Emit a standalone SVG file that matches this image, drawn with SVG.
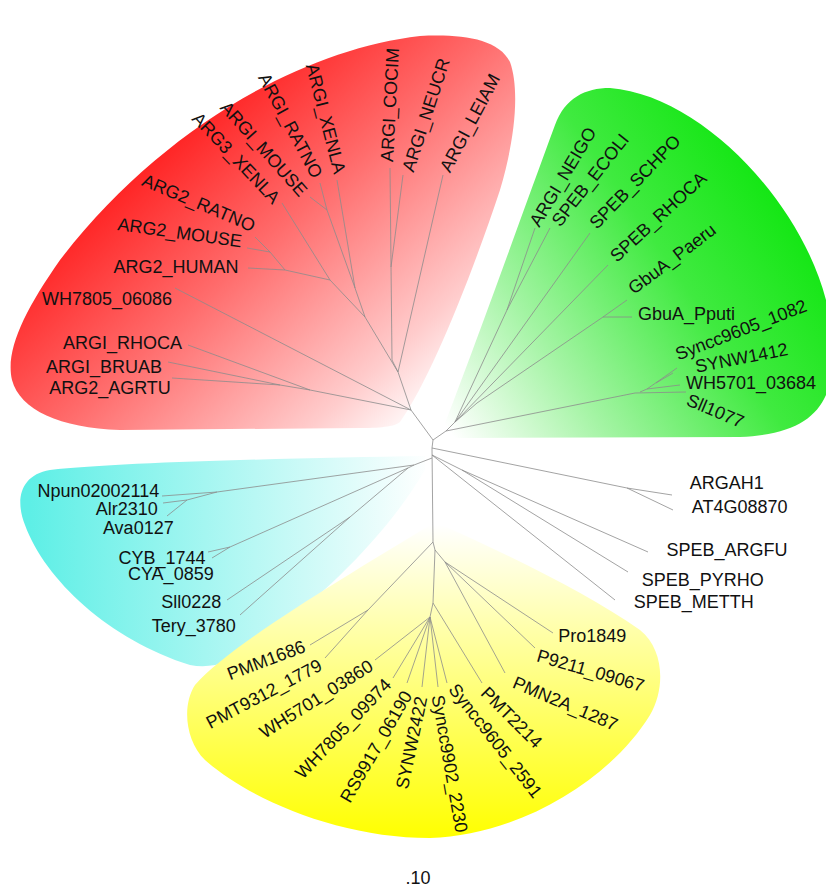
<svg xmlns="http://www.w3.org/2000/svg" width="826" height="888" viewBox="0 0 826 888">
<defs>
<linearGradient id="gRed" gradientUnits="userSpaceOnUse" x1="100" y1="70" x2="420" y2="425">
<stop offset="0" stop-color="#ff0000"/><stop offset="0.15" stop-color="#ff1515"/><stop offset="0.5" stop-color="#ff6c6c"/><stop offset="0.85" stop-color="#ffcccc"/><stop offset="1" stop-color="#ffffff"/>
</linearGradient>
<linearGradient id="gGreen" gradientUnits="userSpaceOnUse" x1="800" y1="190" x2="450" y2="432">
<stop offset="0" stop-color="#0ce60c"/><stop offset="0.35" stop-color="#40ea40"/><stop offset="0.7" stop-color="#a4f4a4"/><stop offset="1" stop-color="#ffffff"/>
</linearGradient>
<linearGradient id="gCyan" gradientUnits="userSpaceOnUse" x1="30" y1="0" x2="430" y2="0">
<stop offset="0" stop-color="#5eefe6"/><stop offset="1" stop-color="#ffffff"/>
</linearGradient>
<linearGradient id="gYellow" gradientUnits="userSpaceOnUse" x1="0" y1="525" x2="0" y2="838">
<stop offset="0" stop-color="#ffffff"/><stop offset="1" stop-color="#ffff00"/>
</linearGradient>
</defs>
<style>
.lbl{font-family:"Liberation Sans",Arial,sans-serif;font-size:18px;fill:#111;text-anchor:middle;dominant-baseline:central}
.br{fill:none;stroke:#8c8c8c;stroke-width:0.8}
</style>
<rect width="826" height="888" fill="#ffffff"/>
<g id="clades">
<path id="clade-red" fill="url(#gRed)" d="M400,422 C430,380 470,280 500,190 C515,140 520,90 510,62 C498,38 460,34 420,36 C300,50 160,130 60,260 C25,310 5,350 12,380 C20,410 60,428 120,430 L360,428 C385,428 395,426 400,422 Z"/>
<path id="clade-green" fill="url(#gGreen)" d="M440,436 C470,360 520,220 555,125 C565,98 585,88 610,88 C700,95 800,200 826,300 L826,395 C815,420 790,435 740,437 L470,438 C455,438 445,438 440,436 Z"/>
<path id="clade-cyan" fill="url(#gCyan)" d="M425,456 C300,458 120,462 50,470 C20,475 15,500 25,525 C45,580 110,640 190,665 C215,670 240,660 270,635 C330,590 390,530 425,470 Z"/>
<path id="clade-yellow" fill="url(#gYellow)" d="M435,522 C520,560 590,595 640,630 C665,650 665,690 650,715 C610,780 520,835 430,838 C340,838 250,800 205,760 C185,740 182,705 195,685 C230,645 340,580 435,522 Z"/>
</g>
<g id="connectors" class="br">
<path d="M411,410 L398,372 M398,372 L443,175 M398,372 L392,360 L390,168 M391,267 L403,175 M398,372 L365,317 M365,317 L355,288 L337,180 M355,288 L327,210 L310,197 M327,210 L320,183 M365,317 L330,280 L282,203 M330,280 L285,270 L248,268 M285,270 L270,252 L247,248 M270,252 L255,237 M411,410 L175,288 M411,410 L310,390 L188,345 M310,390 L280,385 L168,362 M280,385 L172,378"/>
<path d="M411,410 L433,440 L446,431"/>
<path d="M446,431 L635,393 L686,392 M640,392 L647,389 L680,385 M647,389 L677,368 M656,383 L673,373 M446,431 L455,422 M455,422 L507,310 L535,228 M507,310 L550,228 M455,422 L590,233 M455,422 L608,265 M455,422 L477,403 L603,317 L627,300 M603,317 L632,317"/>
<path d="M433,440 L432,448 L433,542 M432,448 L627,488 L672,495 M627,488 L673,510 M432,455 L462,470 L648,552 M462,470 L628,572 M432,455 L615,600"/>
<path d="M432,458 L414,465 L217,492 L162,496 M217,492 L187,500 L163,503 M187,500 L167,516 M414,465 L408,468 L230,547 L208,552 M230,547 L212,558 M408,468 L350,517 L227,600 M350,517 L240,615"/>
<path d="M433,542 L368,610 L310,645 M368,610 L325,658 M433,542 L435,550 L445,562 L553,633 M445,562 L535,648 M445,562 L505,673 M435,550 L433,603 L482,683 M433,603 L430,617 L375,660 M430,617 L393,678 M430,617 L407,683 M430,617 L422,687 M430,617 L438,687 M430,617 L447,683"/>
</g>
<g id="labels-red">
<text class="lbl" transform="translate(122.5,342.5)">ARGI_RHOCA</text>
<text class="lbl" transform="translate(104,366.5)">ARGI_BRUAB</text>
<text class="lbl" transform="translate(110,387.5)">ARG2_AGRTU</text>
<text class="lbl" transform="translate(107,299)">WH7805_06086</text>
<text class="lbl" transform="translate(176,266.7)">ARG2_HUMAN</text>
<text class="lbl" transform="translate(179.7,232.7) rotate(8)">ARG2_MOUSE</text>
<text class="lbl" transform="translate(198.7,203) rotate(23)">ARG2_RATNO</text>
<text class="lbl" transform="translate(236,158) rotate(46.4)">ARG3_XENLA</text>
<text class="lbl" transform="translate(263.7,149) rotate(48.3)">ARGI_MOUSE</text>
<text class="lbl" transform="translate(290.3,125.7) rotate(61.8)">ARGI_RATNO</text>
<text class="lbl" transform="translate(325.7,118.7) rotate(75.6)">ARGI_XENLA</text>
<text class="lbl" transform="translate(390,105) rotate(-87)">ARGI_COCIM</text>
<text class="lbl" transform="translate(426,115) rotate(-72)">ARGI_NEUCR</text>
<text class="lbl" transform="translate(470,123) rotate(-62)">ARGI_LEIAM</text>
</g>
<g id="labels-green">
<text class="lbl" transform="translate(563,177) rotate(-59)">ARGI_NEIGO</text>
<text class="lbl" transform="translate(590.3,180) rotate(-51.6)">SPEB_ECOLI</text>
<text class="lbl" transform="translate(635,182) rotate(-46)">SPEB_SCHPO</text>
<text class="lbl" transform="translate(658.3,217) rotate(-42.4)">SPEB_RHOCA</text>
<text class="lbl" transform="translate(672,259) rotate(-37)">GbuA_Paeru</text>
<text class="lbl" transform="translate(686.5,313.5)">GbuA_Pputi</text>
<text class="lbl" transform="translate(741,330) rotate(-21)">Syncc9605_1082</text>
<text class="lbl" transform="translate(741.5,358) rotate(-11)">SYNW1412</text>
<text class="lbl" transform="translate(751,383)">WH5701_03684</text>
<text class="lbl" transform="translate(715.3,411) rotate(23)">Sll1077</text>
</g>
<g id="labels-other">
<text class="lbl" transform="translate(726.7,483.3)">ARGAH1</text>
<text class="lbl" transform="translate(739.7,506.7)">AT4G08870</text>
<text class="lbl" transform="translate(727,550.3)">SPEB_ARGFU</text>
<text class="lbl" transform="translate(702.8,579.5)">SPEB_PYRHO</text>
<text class="lbl" transform="translate(693.8,602)">SPEB_METTH</text>
</g>
<g id="labels-cyan">
<text class="lbl" transform="translate(98.3,490.7)">Npun02002114</text>
<text class="lbl" transform="translate(126.7,509.3)">Alr2310</text>
<text class="lbl" transform="translate(138.3,528.3)">Ava0127</text>
<text class="lbl" transform="translate(162,558.3)">CYB_1744</text>
<text class="lbl" transform="translate(170.8,574.3)">CYA_0859</text>
<text class="lbl" transform="translate(191.2,602.3)">Sll0228</text>
<text class="lbl" transform="translate(193.8,625.5)">Tery_3780</text>
</g>
<g id="labels-yellow">
<text class="lbl" transform="translate(592.2,636)">Pro1849</text>
<text class="lbl" transform="translate(590.5,670.8) rotate(16.2)">P9211_09067</text>
<text class="lbl" transform="translate(565.3,703.7) rotate(23)">PMN2A_1287</text>
<text class="lbl" transform="translate(511.5,717.5) rotate(45)">PMT2214</text>
<text class="lbl" transform="translate(495.3,740.8) rotate(52)">Syncc9605_2591</text>
<text class="lbl" transform="translate(449.5,763.7) rotate(80)">Syncc9902_2230</text>
<text class="lbl" transform="translate(411.7,742.8) rotate(-78)">SYNW2422</text>
<text class="lbl" transform="translate(376.2,746.7) rotate(-60)">RS9917_06190</text>
<text class="lbl" transform="translate(343.2,728.7) rotate(-46.4)">WH7805_09974</text>
<text class="lbl" transform="translate(316.2,699.2) rotate(-32.4)">WH5701_03860</text>
<text class="lbl" transform="translate(264,694) rotate(-28)">PMT9312_1779</text>
<text class="lbl" transform="translate(266.2,660.3) rotate(-20.6)">PMM1686</text>
</g>
<g id="scale">
<text class="lbl" transform="translate(418,878)">.10</text>
</g>
</svg>
